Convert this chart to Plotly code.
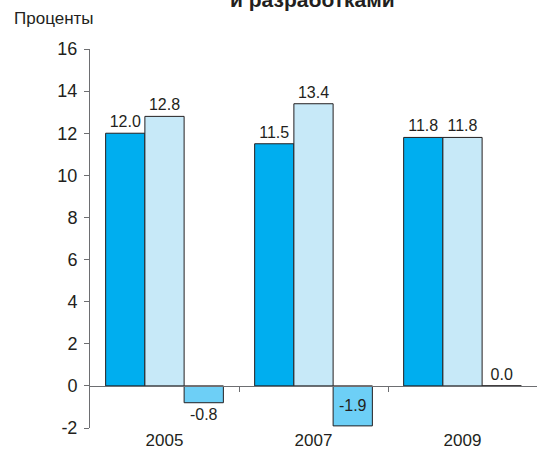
import plotly.graph_objects as go

# --- data --------------------------------------------------------------------
years = ["2005", "2007", "2009"]
series_a = [12.0, 11.5, 11.8]
series_b = [12.8, 13.4, 11.8]
series_c = [-0.8, -1.9, 0.0]
y_ticks = [-2, 0, 2, 4, 6, 8, 10, 12, 14, 16]
y_tick_text = ["-2", "0", "2", "4", "6", "8", "10", "12", "14", "16"]

FONT = "Liberation Sans, Arial, sans-serif"
TXT = "#231f20"
AXIS = "#6d6e71"


def _lab(vals):
    return [f"{v:.1f}" for v in vals]


fig = go.Figure()
for vals, color, pos in [
    (series_a, "#00aeef", "outside"),
    (series_b, "#c7e9f8", "outside"),
    (series_c, "#6dcff6", ["outside", "inside", "outside"]),
]:
    fig.add_bar(
        x=years,
        y=vals,
        marker=dict(color=color, line=dict(color="#231f20", width=1)),
        text=_lab(vals),
        textposition=pos,
        textangle=0,
        insidetextanchor="middle",
        cliponaxis=False,
        textfont=dict(family=FONT, size=16, color=TXT),
        insidetextfont=dict(family=FONT, size=16, color=TXT),
        outsidetextfont=dict(family=FONT, size=16, color=TXT),
        showlegend=False,
    )

# invisible trace on the overlay axis so the zero-line ticks get drawn
fig.add_scatter(x=[0, 2], y=[0, 0], xaxis="x2", mode="lines",
                line=dict(width=0), hoverinfo="skip", showlegend=False)

fig.update_layout(
    width=537,
    height=459,
    margin=dict(l=90, r=0, t=49, b=31),
    paper_bgcolor="white",
    plot_bgcolor="white",
    barmode="group",
    bargap=0.21,
    bargroupgap=0,
    font=dict(family=FONT, size=16, color=TXT),
    xaxis=dict(
        type="category",
        showline=False,
        ticks="",
        showgrid=False,
        zeroline=False,
        tickfont=dict(size=17, color=TXT),
    ),
    xaxis2=dict(
        overlaying="x",
        anchor="free",
        position=2 / 18,
        range=[-0.5, 2.5],
        tickvals=[0.5, 1.5],
        ticks="outside",
        ticklen=5,
        tickcolor=AXIS,
        showticklabels=False,
        showline=True,
        linecolor=AXIS,
        linewidth=1,
        showgrid=False,
        zeroline=False,
    ),
    yaxis=dict(
        range=[-2, 16],
        tickvals=y_ticks,
        ticktext=y_tick_text,
        ticks="outside",
        ticklen=5,
        ticklabelstandoff=3,
        tickcolor=AXIS,
        showline=True,
        linecolor=AXIS,
        showgrid=False,
        zeroline=False,
        tickfont=dict(size=18, color=TXT),
    ),
    annotations=[
        dict(text="Проценты", xref="paper", yref="paper", x=-0.1745, y=1.05,
             xanchor="left", yanchor="bottom", showarrow=False,
             font=dict(size=17, color=TXT)),
        dict(text="<b>и разработками</b>", xref="paper", yref="paper",
             x=0.497, y=1.096, xanchor="center", yanchor="bottom",
             showarrow=False, font=dict(size=21, color=TXT)),
    ],
)

# drop the default page margin so the figure sits at the window's corner
fig.write_html(
    "out.html",
    config={"displayModeBar": False},
    post_script="document.body.style.margin='0';",
)
